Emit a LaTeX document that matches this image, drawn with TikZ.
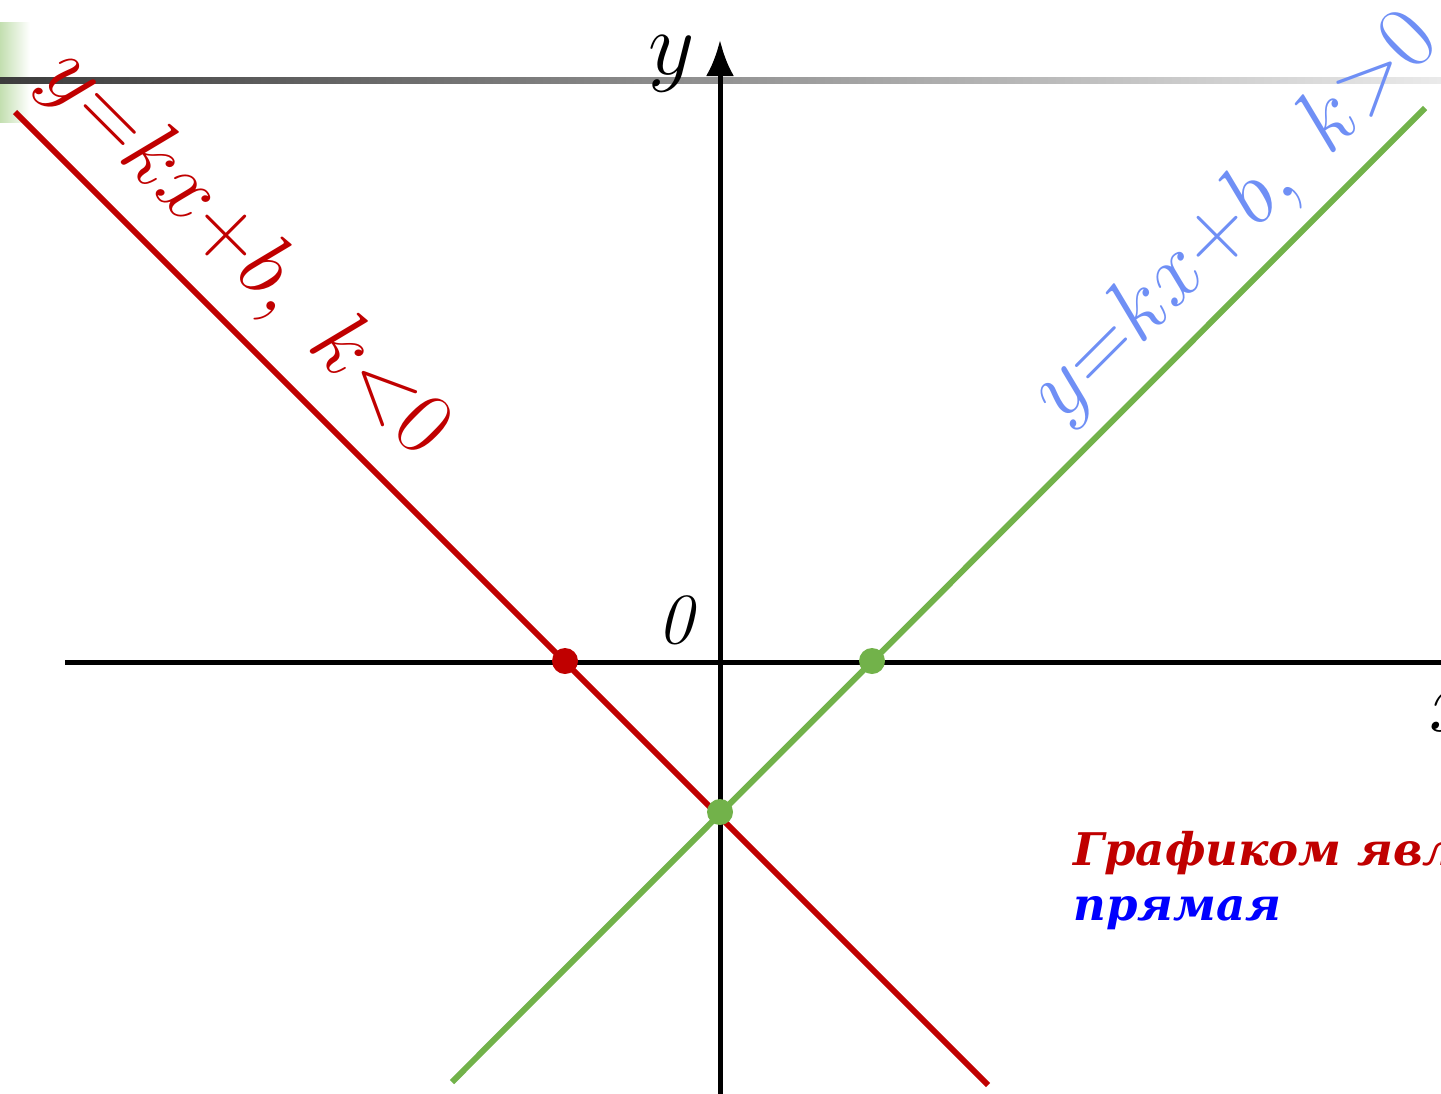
\RequirePackage{fix-cm}
\documentclass[tikz,border=0pt]{standalone}
\usepackage{fontspec}
\usepackage{amsmath}
\usetikzlibrary{arrows.meta,positioning,calc}
\newfontfamily\cyrserif{DejaVu Serif}
\definecolor{LineRed}{HTML}{C00000}
\definecolor{LineGreen}{HTML}{72B24A}
\definecolor{LabelBlue}{HTML}{6F8FF5}
\definecolor{NoteBlue}{HTML}{0000FF}
\definecolor{BarDark}{HTML}{3C3C3C}
\definecolor{BarLight}{HTML}{EAEAEA}
\definecolor{TabGreen}{HTML}{C3DFB0}

\begin{document}
\begin{tikzpicture}[x=0.5pt,y=-0.5pt,>=Latex,
    axis/.style={line width=2.5pt,black},
    graph/.style={line width=3pt},
    dot/.style={circle,inner sep=0pt,minimum size=13pt},
    biglabel/.style={font=\fontsize{45}{50}\selectfont},
    note/.style={anchor=base west,inner sep=0pt,
      font=\cyrserif\bfseries\itshape\fontsize{22.5}{28}\selectfont}]
  \useasboundingbox (0,0) rectangle (1441,1093);
  \clip (0,0) rectangle (1441,1093);
  % slide decoration
  \shade[left color=TabGreen,right color=white] (0,22) rectangle (30,122);
  \shade[left color=BarDark,right color=BarLight] (0,77) rectangle (1441,83);
  % axes
  \coordinate (xstart) at (65,662);
  \coordinate (xend) at (1470,662);
  \coordinate (ybot) at (720,1100);
  \coordinate (ytop) at (720,40);
  \draw[axis] (xstart) -- (xend);
  \draw[axis,-{Latex[length=18pt,width=14pt]}] (ybot) -- (ytop);
  \node[biglabel] (ylab) at (672,64) {$y$};
  \node[font=\fontsize{36}{40}\selectfont] (olab) at (677,620) {\textit{0}};
  \node[biglabel] (xlab) at (1455,712) {$x$};
  % the two lines
  \coordinate (redtop) at (15,112);
  \coordinate (redbot) at (988,1085);
  \coordinate (greenbot) at (452,1082);
  \coordinate (greentop) at (1425,108);
  \draw[graph,LineRed] (redtop) -- (redbot);
  \draw[graph,LineGreen] (greenbot) -- (greentop);
  \node[dot,fill=LineRed] (xred) at (565,661) {};
  \node[dot,fill=LineGreen] (xgreen) at (872,661) {};
  \node[dot,fill=LineGreen] (bcross) at (720,812) {};
  % labels along the lines
  \node[biglabel,text=LineRed,rotate=-45] (redlab) at (245,254)
    {$y{=}kx{+}b,\ k{<}0$};
  \node[biglabel,text=LabelBlue,rotate=45] (bluelab) at (1236,218)
    {$y{=}kx{+}b,\ k{>}0$};
  % caption
  \node[note,text=LineRed] (note1) at (1073,865) {Графиком является};
  \node[note,text=NoteBlue] (note2) at (1073,920) {прямая};
\end{tikzpicture}
\end{document}
